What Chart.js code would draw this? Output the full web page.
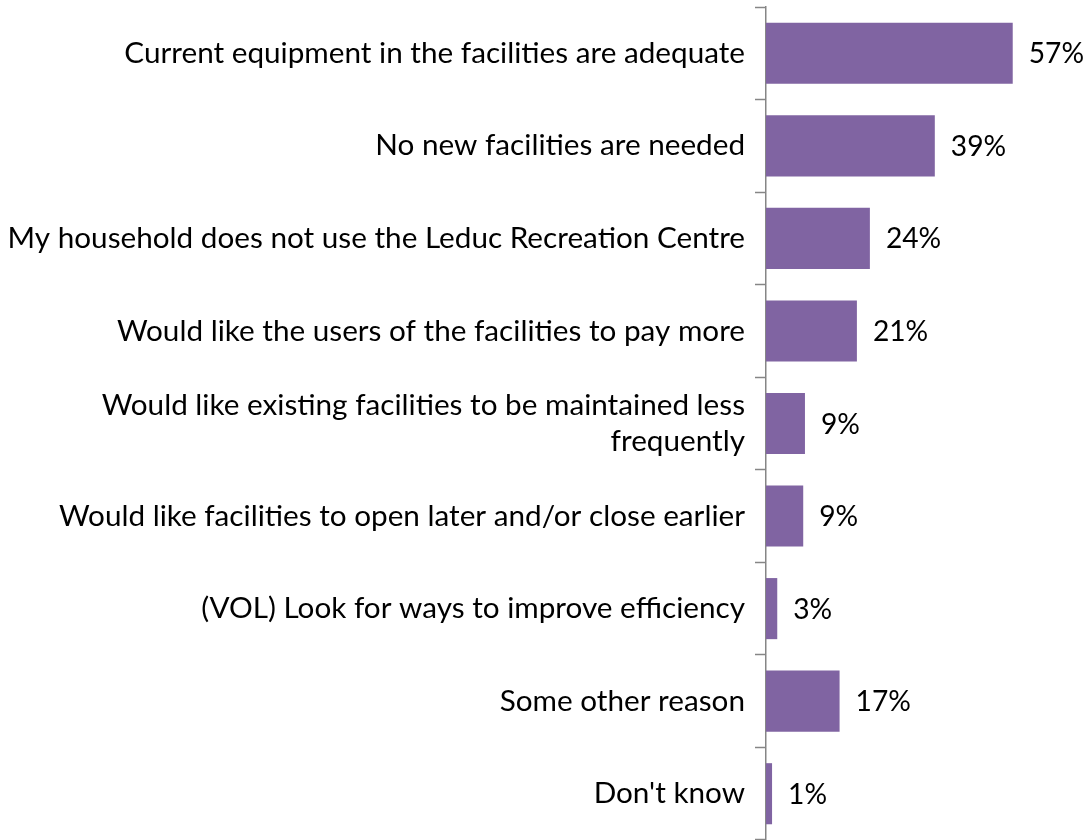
<!DOCTYPE html>
<html>
<head>
<meta charset="utf-8">
<script src="https://cdn.jsdelivr.net/npm/chart.js@4.4.1/dist/chart.umd.min.js"></script>
<style>
html,body{margin:0;padding:0;background:#fff;}
#wrap{width:1088px;height:840px;position:relative;}
</style>
</head>
<body>
<div id="wrap"><canvas id="c" width="1088" height="840"></canvas></div>
<script>
const categories = [
  "Current equipment in the facilities are adequate",
  "No new facilities are needed",
  "My household does not use the Leduc Recreation Centre",
  "Would like the users of the facilities to pay more",
  ["Would like existing facilities to be maintained less", "frequently"],
  "Would like facilities to open later and/or close earlier",
  "(VOL) Look for ways to improve efficiency",
  "Some other reason",
  "Don't know"
];
const values = [57, 39, 24, 21, 9, 8.6, 2.6, 17, 1.4];
const valueLabels = ["57%", "39%", "24%", "21%", "9%", "9%", "3%", "17%", "1%"];

const FONT = "Lato, 'Open Sans', sans-serif";

// fit font size to the reference text width
const mctx = document.createElement('canvas').getContext('2d');
mctx.font = "100px " + FONT;
const longest = Math.max(...categories.flat().map(s => mctx.measureText(s).width));
const FS = Math.round(737 / longest * 100 * 10) / 10;
const VFS = Math.round(FS * 0.95 * 10) / 10;

const valueLabelPlugin = {
  id: 'valueLabels',
  afterDatasetsDraw(chart) {
    const ctx = chart.ctx;
    const meta = chart.getDatasetMeta(0);
    ctx.save();
    ctx.font = VFS + "px " + FONT;
    ctx.fillStyle = "#000";
    ctx.textAlign = "left";
    ctx.textBaseline = "middle";
    meta.data.forEach((bar, i) => {
      ctx.fillText(valueLabels[i], bar.x + 16, bar.y + 1);
    });
    ctx.restore();
  }
};

new Chart(document.getElementById('c'), {
  type: 'bar',
  data: {
    labels: categories,
    datasets: [{
      data: values,
      backgroundColor: '#8064A2',
      borderWidth: 0,
      barPercentage: 0.66,
      categoryPercentage: 1.0
    }]
  },
  options: {
    indexAxis: 'y',
    responsive: false,
    animation: false,
    layout: { padding: { top: 7, bottom: 0, left: 0, right: 19 } },
    plugins: { legend: { display: false }, tooltip: { enabled: false } },
    scales: {
      x: { display: false, min: 0, max: 70 },
      y: {
        afterFit(scale) { scale.width = 766; scale.paddingTop = 0; scale.paddingBottom = 0; },
        border: { display: true, color: '#868686', width: 1.5 },
        grid: { drawOnChartArea: false, drawTicks: true, tickLength: 11, tickColor: '#868686', tickWidth: 1.5, offset: true },
        ticks: { color: '#000', padding: 10, font: { family: FONT, size: FS, lineHeight: 36 / FS } }
      }
    }
  },
  plugins: [valueLabelPlugin]
});
</script>
</body>
</html>
